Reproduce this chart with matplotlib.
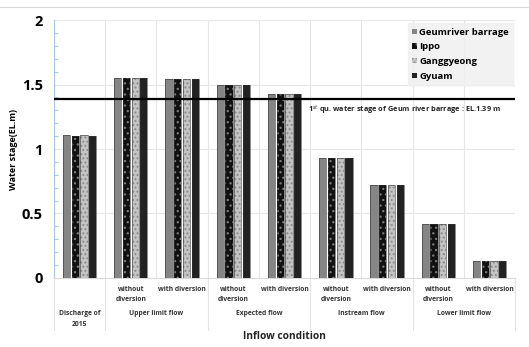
import numpy as np
import matplotlib.pyplot as plt
from matplotlib.patches import Patch
from matplotlib.lines import Line2D

plt.rcParams['font.family'] = ['Open Sans', 'DejaVu Sans']
plt.rcParams['hatch.linewidth'] = 0.9

# data
series = ['Geumriver barrage', 'Ippo', 'Ganggyeong', 'Gyuam']
sub_labels = ['', 'without\ndiversion', 'with diversion', 'without\ndiversion', 'with diversion',
              'without\ndiversion', 'with diversion', 'without\ndiversion', 'with diversion']
groups = ['Discharge of\n2015', 'Upper limit flow', 'Expected flow', 'Instream flow', 'Lower limit flow']
group_span = [(0, 1), (1, 3), (3, 5), (5, 7), (7, 9)]

geum = [1.11, 1.55, 1.54, 1.50, 1.43, 0.93, 0.72, 0.42, 0.13]
ippo = [1.10, 1.55, 1.54, 1.50, 1.43, 0.93, 0.72, 0.42, 0.13]
gang = [1.11, 1.55, 1.54, 1.50, 1.43, 0.93, 0.72, 0.42, 0.13]
gyuam = [1.10, 1.55, 1.54, 1.50, 1.43, 0.93, 0.72, 0.42, 0.13]
ref_level = 1.39

fig = plt.figure(figsize=(5.29, 3.47), dpi=100)
ax = fig.add_axes([0.102, 0.199, 0.872, 0.743])

x = np.arange(len(geum)) + 0.5
w = 0.14
step = 0.17
styles = [
    dict(color='#858585', hatch=None, edgecolor='#858585'),
    dict(color='#111111', hatch='...', edgecolor='#7a7a7a'),
    dict(color='#c4c4c4', hatch='....', edgecolor='#8a8a8a'),
    dict(color='#222222', hatch=None, edgecolor='#222222'),
]
for k, vals in enumerate([geum, ippo, gang, gyuam]):
    st = styles[k]
    ax.bar(x + (k - 1.5) * step, vals, w, color=st['color'], hatch=st['hatch'],
           edgecolor=st['edgecolor'], linewidth=0, zorder=3)
    ax.bar(x + (k - 1.5) * step, vals, w, fill=False, edgecolor='#333333',
           linewidth=0.4, zorder=4)

ax.axhline(ref_level, color='black', linewidth=1.6, zorder=5)
ax.text(4.95, 1.36, r'1$^{st}$ qu. water stage of Geum river barrage : EL.1.39 m',
        fontsize=5.3, fontweight='bold', va='top', ha='left', color='#222222')

ax.set_xlim(0, 9)
ax.set_ylim(0, 2)
ax.set_yticks([0, 0.5, 1, 1.5, 2])
ax.set_yticklabels(['0', '0.5', '1', '1.5', '2'], fontsize=10.5, fontweight='bold')
ax.set_yticks(np.arange(0, 2.01, 0.1), minor=True)
ax.tick_params(axis='y', which='both', direction='in', color='#a9c8e8', pad=8)
ax.tick_params(axis='y', which='major', length=0)
ax.tick_params(axis='y', which='minor', length=3, width=0.8)
ax.set_xticks([])

for y in [0.5, 1, 1.5, 2]:
    ax.axhline(y, color='#e6e6e6', linewidth=0.8, zorder=0)
for xv in range(1, 10):
    ax.axvline(xv, color='#e6e6e6', linewidth=0.8, zorder=0)

for s in ['top', 'right']:
    ax.spines[s].set_visible(False)
ax.spines['left'].set_color('#a9c8e8')
ax.spines['bottom'].set_color('#d9d9d9')

ax.set_ylabel('Water stage(EL.m)', fontsize=6.5, fontweight='bold', labelpad=3)

tr = ax.get_xaxis_transform()
for xi, lab in zip(x, sub_labels):
    if lab:
        ax.text(xi, -0.03, lab, transform=tr, ha='center', va='top', fontsize=4.9,
                fontweight='bold', color='#333333', linespacing=1.7)
for (a, b), lab in zip(group_span, groups):
    ax.text((a + b) / 2, -0.125, lab, transform=tr, ha='center', va='top', fontsize=4.9,
            fontweight='bold', color='#333333', linespacing=1.7)
for xv in [0, 1, 3, 5, 7, 9]:
    ax.add_line(Line2D([xv, xv], [0, -0.2], transform=tr, color='#e3e3e3',
                       linewidth=0.8, clip_on=False))

ax.text(4.5, -0.229, 'Inflow condition', transform=tr, ha='center', va='center',
        fontsize=7.3, fontweight='bold', color='#222222')

handles = [Patch(facecolor=st['color'], edgecolor=st['edgecolor'], hatch=st['hatch'], linewidth=0)
           for st in styles]
leg = ax.legend(handles, series, loc='upper right', bbox_to_anchor=(1.0, 0.995),
                prop={'size': 6.8, 'weight': 'bold'}, frameon=True, fancybox=False,
                handlelength=0.5, handleheight=0.5, handletextpad=0.3,
                labelspacing=0.6, borderpad=0.45, borderaxespad=0.2)
leg.get_frame().set_facecolor('#efefef')
leg.get_frame().set_edgecolor('#efefef')
leg.set_zorder(6)

fig.add_artist(Line2D([0, 1], [0.98, 0.98], transform=fig.transFigure,
                      color='#d9d9d9', linewidth=0.8))

plt.savefig('out.png', dpi=100)
